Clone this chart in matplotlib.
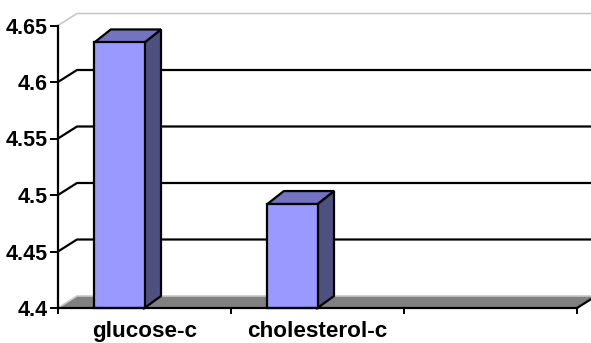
import matplotlib
matplotlib.use('Agg')
import matplotlib.pyplot as plt
from matplotlib.patches import Polygon, Rectangle

categories = ['glucose-c', 'cholesterol-c', '']
values = [4.635, 4.492]
yticks = [4.4, 4.45, 4.5, 4.55, 4.6, 4.65]
ymin, ymax = 4.4, 4.65

plt.rcParams['font.family'] = ['Liberation Sans', 'DejaVu Sans']
plt.rcParams['font.weight'] = 'bold'

W, H = 591, 343
fig = plt.figure(figsize=(W/100, H/100), dpi=100)
ax = fig.add_axes([58/W, (H-308)/H, 519/W, 282.5/H])
ax.set_xlim(0, len(categories))
ax.set_ylim(ymin, ymax)

# depth offsets (pixels) turned into data units
pxx = 519/len(categories)
pxy = 282.5/(ymax-ymin)
wdx, wdy = 19/pxx, 12/pxy     # walls / floor
bdx, bdy = 16.5/pxx, 13/pxy   # bars

def back(x, y, dx=wdx, dy=wdy):
    return (x+dx, y+dy)

n = len(categories)
# wall outline
ax.plot([0, wdx, n+wdx], [ymax, ymax+wdy, ymax+wdy], color='#c8c8c8', lw=1.2,
        clip_on=False, zorder=1)

# gridlines, front tick -> back wall
for t in yticks[1:-1]:
    ax.plot([0, wdx, n+wdx], [t, t+wdy, t+wdy], color='black', lw=1.6,
            clip_on=False, zorder=2, solid_capstyle='butt')

# floor
floor = Polygon([(0, ymin), (n, ymin), back(n, ymin), back(0, ymin)],
                closed=True, facecolor='#808080', edgecolor='none',
                clip_on=False, zorder=3)
ax.add_patch(floor)
ax.plot([0, wdx, n+wdx], [ymin, ymin+wdy, ymin+wdy], color='#c8c8c8', lw=1.2,
        clip_on=False, zorder=3)
ax.plot([n, n+wdx], [ymin, ymin+wdy], color='black', lw=1.6,
        clip_on=False, zorder=3)

# bars
for i, v in enumerate(values):
    x0, x1 = i+0.21, i+0.5
    ec = dict(edgecolor='black', linewidth=1.6, joinstyle='miter',
              clip_on=False, zorder=5)
    ax.add_patch(Polygon([(x1, ymin), (x1, v), back(x1, v, bdx, bdy),
                          back(x1, ymin, bdx, wdy)], closed=True,
                         facecolor='#4f4f80', **ec))
    ax.add_patch(Polygon([(x0, v), (x1, v), back(x1, v, bdx, bdy),
                          back(x0, v, bdx, bdy)], closed=True,
                         facecolor='#7373c0', **ec))
    ax.add_patch(Rectangle((x0, ymin), x1-x0, v-ymin, facecolor='#9999ff', **ec))

for s in ['top', 'right']:
    ax.spines[s].set_visible(False)
for s in ['left', 'bottom']:
    ax.spines[s].set_linewidth(1.6)
    ax.spines[s].set_zorder(6)
ax.patch.set_visible(False)

ax.set_yticks(yticks)
ax.set_yticklabels([f'{t:g}' for t in yticks], fontsize=15.5, fontweight='bold')
ax.tick_params(axis='y', direction='out', length=6, width=1.4, pad=1.5)
for lbl in ax.get_yticklabels():
    lbl.set_va('center_baseline')

ax.set_xticks(range(n+1))
ax.set_xticklabels([])
ax.set_xticks([i+0.5 for i in range(n)], minor=True)
ax.set_xticklabels(categories, minor=True, fontsize=16.2, fontweight='bold')
ax.tick_params(axis='x', which='major', direction='out', length=4, width=1.4)
ax.tick_params(axis='x', which='minor', length=0, pad=9.5)

fig.savefig('out.png', dpi=100)
